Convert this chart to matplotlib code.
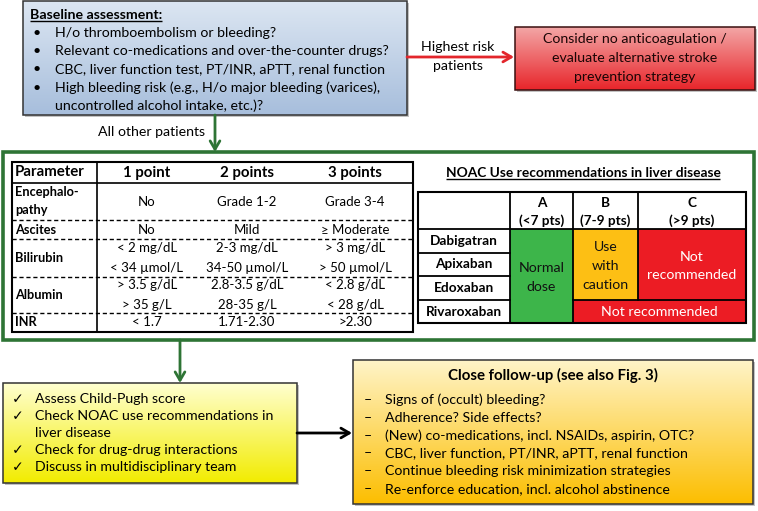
"""Flowchart: anticoagulation management in patients with liver disease."""

import matplotlib
matplotlib.use("Agg")
import matplotlib.pyplot as plt
import matplotlib.colors as mcolors
import numpy as np
from matplotlib.patches import Rectangle

plt.rcParams["font.family"] = ["Lato", "DejaVu Sans"]

# ---- texts -----------------------------------------------------------------
BASELINE_TITLE = "Baseline assessment:"
BASELINE_ITEMS = [
    "H/o thromboembolism or bleeding?",
    "Relevant co-medications and over-the-counter drugs?",
    "CBC, liver function test, PT/INR, aPTT, renal function",
    "High bleeding risk (e.g., H/o major bleeding (varices),",
    "uncontrolled alcohol intake, etc.)?",
]
RISK_LABEL = ["Highest risk", "patients"]
RED_BOX = ["Consider no anticoagulation /", "evaluate alternative stroke",
           "prevention strategy"]
OTHER_LABEL = "All other patients"

CP_HEADER = ["Parameter", "1 point", "2 points", "3 points"]
CP_PARAMS = [["Encephalo-", "pathy"], ["Ascites"], ["Bilirubin"], ["Albumin"], ["INR"]]
CP_ONE = [["No"], ["No"], ["< 2 mg/dL", "< 34 µmol/L"], ["> 3.5 g/dL", "> 35 g/L"], ["< 1.7"]]
CP_TWO = [["Grade 1-2"], ["Mild"], ["2-3 mg/dL", "34-50 µmol/L"],
          ["2.8-3.5 g/dL", "28-35 g/L"], ["1.71-2.30"]]
CP_THREE = [["Grade 3-4"], ["≥ Moderate"], ["> 3 mg/dL", "> 50 µmol/L"],
            ["< 2.8 g/dL", "< 28 g/dL"], [">2.30"]]

NOAC_TITLE = "NOAC Use recommendations in liver disease"
NOAC_CLASSES = [("A", "(<7 pts)"), ("B", "(7-9 pts)"), ("C", "(>9 pts)")]
NOAC_DRUGS = ["Dabigatran", "Apixaban", "Edoxaban", "Rivaroxaban"]

CHECK_ITEMS = [["Assess Child-Pugh score"],
               ["Check NOAC use recommendations in", "liver disease"],
               ["Check for drug-drug interactions"],
               ["Discuss in multidisciplinary team"]]
FOLLOW_TITLE = "Close follow-up (see also Fig. 3)"
FOLLOW_ITEMS = [
    "Signs of (occult) bleeding?",
    "Adherence? Side effects?",
    "(New) co-medications, incl. NSAIDs, aspirin, OTC?",
    "CBC, liver function, PT/INR, aPTT, renal function",
    "Continue bleeding risk minimization strategies",
    "Re-enforce education, incl. alcohol abstinence",
]

GREEN_LINE = "#2E7435"
RED_CELL = "#EC1C24"
GREEN_CELL = "#3DB54A"
ORANGE_CELL = "#FDBF14"

fig = plt.figure(figsize=(7.58, 5.11), dpi=100)
ax = fig.add_axes([0, 0, 1, 1])
ax.set_xlim(0, 758)
ax.set_ylim(511, 0)
ax.axis("off")

FS = 10.2  # ~14 px body text


def grad_box(x0, y0, x1, y1, ctop, cbot, ec="#333333", lw=1.1, z=2):
    ax.add_patch(Rectangle((x0 + 2, y0 + 2), x1 - x0, y1 - y0, fc="#9a9a9a",
                           ec="none", alpha=0.6, zorder=z))
    t = np.linspace(0, 1, 200)[:, None, None]
    c0 = np.array(mcolors.to_rgb(ctop))
    c1 = np.array(mcolors.to_rgb(cbot))
    img = c0 * (1 - t) + c1 * t
    ax.imshow(img, extent=(x0, x1, y1, y0), aspect="auto", zorder=z + 0.1,
              interpolation="bilinear")
    ax.add_patch(Rectangle((x0, y0), x1 - x0, y1 - y0, fc="none", ec=ec,
                           lw=lw, zorder=z + 0.2))


def underline(txt, lw=1.0, color="black"):
    r = fig.canvas.get_renderer()
    bb = txt.get_window_extent(renderer=r)
    inv = ax.transData.inverted()
    (xa, ya), (xb, yb) = inv.transform([(bb.x0, bb.y0), (bb.x1, bb.y1)])
    ax.plot([xa, xb], [ya + 0.5, ya + 0.5], color=color, lw=lw, zorder=10,
            solid_capstyle="butt")


def arrow(x0, y0, x1, y1, color, lw=2.0):
    ax.annotate("", xy=(x1, y1), xytext=(x0, y0),
                arrowprops=dict(arrowstyle="->,head_length=0.6,head_width=0.35",
                                color=color, lw=lw, shrinkA=0, shrinkB=0),
                zorder=6)


# ---- baseline assessment box ------------------------------------------------
grad_box(23, 1, 407, 115, "#DCE6F2", "#A7BEDC")
t = ax.text(30, 15, BASELINE_TITLE, fontsize=FS, fontweight="bold", va="center", zorder=5)
underline(t)
for i, item in enumerate(BASELINE_ITEMS):
    y = 33 + i * 18.2
    if i < 4:
        ax.text(33, y, "•", fontsize=FS, va="center", zorder=5)
    ax.text(55, y, item, fontsize=FS, va="center", zorder=5)

# ---- highest risk ---------------------------------------------------------------
arrow(407, 57, 514, 57, "#E3262C")
ax.text(458, 47, RISK_LABEL[0], fontsize=FS, ha="center", va="center")
ax.text(458, 66, RISK_LABEL[1], fontsize=FS, ha="center", va="center")
grad_box(515, 27, 755, 90, "#F3A6A6", "#E8252A", ec="#3a1010")
for i, line in enumerate(RED_BOX):
    ax.text(635, 39 + i * 19, line, fontsize=FS, ha="center", va="center",
            color="#1a0505", zorder=5)

# ---- all other patients -----------------------------------------------------
arrow(215, 115, 215, 152, GREEN_LINE)
ax.text(205, 132, OTHER_LABEL, fontsize=FS, ha="right", va="center")

# ---- green frame -------------------------------------------------------------
ax.add_patch(Rectangle((3, 152), 751, 188, fc="white", ec=GREEN_LINE, lw=2.6, zorder=1))

# ---- Child-Pugh table ---------------------------------------------------------
row_edges = [162, 183, 220, 239, 277, 313, 332]
col_centers = [147, 247, 355]
ax.add_patch(Rectangle((12, 162), 401, 170, fc="white", ec="black", lw=1.5, zorder=3))
ax.plot([97, 97], [162, 332], color="black", lw=1.2, zorder=4)
ax.plot([12, 413], [183, 183], color="black", lw=1.2, zorder=4)
for y in row_edges[2:-1]:
    ax.plot([12, 413], [y, y], color="black", lw=1.0, ls=(0, (3, 2)), zorder=4)

ax.text(15, 172.5, CP_HEADER[0], fontsize=10.8, fontweight="bold", va="center", zorder=5)
for cx, h in zip(col_centers, CP_HEADER[1:]):
    ax.text(cx, 172.5, h, fontsize=10.8, fontweight="bold", ha="center", va="center", zorder=5)

for r in range(len(CP_PARAMS)):
    ymid = (row_edges[r + 1] + row_edges[r + 2]) / 2
    plines = CP_PARAMS[r]
    for k, pl in enumerate(plines):
        y = ymid + (k - (len(plines) - 1) / 2) * 18
        ax.text(15, y, pl, fontsize=9.2, fontweight="bold", va="center", zorder=5)
    for cx, col in zip(col_centers, (CP_ONE, CP_TWO, CP_THREE)):
        cl = col[r]
        for k, line in enumerate(cl):
            y = ymid + (k - (len(cl) - 1) / 2) * 19.5
            ax.text(cx, y, line, fontsize=9.5, ha="center", va="center", zorder=5)

# ---- NOAC table -------------------------------------------------------------
t = ax.text(583, 173, NOAC_TITLE, fontsize=9.9, fontweight="bold", ha="center",
            va="center", zorder=5)
underline(t)
nx = [418, 510, 573, 638, 746]
ny = [192, 229, 253, 276, 300, 323]
# coloured cells
ax.add_patch(Rectangle((nx[1], ny[1]), nx[2] - nx[1], ny[5] - ny[1], fc=GREEN_CELL, ec="none", zorder=3))
ax.add_patch(Rectangle((nx[2], ny[1]), nx[3] - nx[2], ny[4] - ny[1], fc=ORANGE_CELL, ec="none", zorder=3))
ax.add_patch(Rectangle((nx[3], ny[1]), nx[4] - nx[3], ny[4] - ny[1], fc=RED_CELL, ec="none", zorder=3))
ax.add_patch(Rectangle((nx[2], ny[4]), nx[4] - nx[2], ny[5] - ny[4], fc=RED_CELL, ec="none", zorder=3))
lk = dict(color="black", lw=1.3, zorder=4)
ax.add_patch(Rectangle((nx[0], ny[0]), nx[4] - nx[0], ny[5] - ny[0], fc="none", ec="black", lw=1.5, zorder=4))
ax.plot([nx[0], nx[4]], [ny[1], ny[1]], **lk)
for y in ny[2:5]:
    ax.plot([nx[0], nx[1]], [y, y], **lk)
ax.plot([nx[2], nx[4]], [ny[4], ny[4]], **lk)
ax.plot([nx[1], nx[1]], [ny[0], ny[5]], **lk)
ax.plot([nx[2], nx[2]], [ny[0], ny[5]], **lk)
ax.plot([nx[3], nx[3]], [ny[0], ny[4]], **lk)

for i, (letter, pts) in enumerate(NOAC_CLASSES):
    cx = (nx[i + 1] + nx[i + 2]) / 2
    ax.text(cx, 203, letter, fontsize=9.8, fontweight="bold", ha="center", va="center", zorder=5)
    ax.text(cx, 221, pts, fontsize=9.8, fontweight="bold", ha="center", va="center", zorder=5)
for i, drug in enumerate(NOAC_DRUGS):
    ax.text((nx[0] + nx[1]) / 2, (ny[i + 1] + ny[i + 2]) / 2, drug, fontsize=9.8,
            fontweight="bold", ha="center", va="center", zorder=5)

cx = (nx[1] + nx[2]) / 2
ax.text(cx, 268, "Normal", fontsize=FS, ha="center", va="center", color="#111", zorder=5)
ax.text(cx, 287, "dose", fontsize=FS, ha="center", va="center", color="#111", zorder=5)
cx = (nx[2] + nx[3]) / 2
for k, w in enumerate(["Use", "with", "caution"]):
    ax.text(cx, 247 + k * 19, w, fontsize=FS, ha="center", va="center", color="#111", zorder=5)
cx = (nx[3] + nx[4]) / 2
ax.text(cx, 257, "Not", fontsize=FS, ha="center", va="center", color="white", zorder=5)
ax.text(cx, 275, "recommended", fontsize=FS, ha="center", va="center", color="white", zorder=5)
ax.text((nx[2] + nx[4]) / 2, 312, "Not recommended", fontsize=FS, ha="center",
        va="center", color="white", zorder=5)

# ---- bottom boxes ----------------------------------------------------------
arrow(180, 340, 180, 383, GREEN_LINE)
grad_box(3, 383, 297, 483, "#FFFFD0", "#F2EC00")
y = 399
for item in CHECK_ITEMS:
    ax.text(12, y, "✓", fontsize=FS, va="center", zorder=5)
    for line in item:
        ax.text(35, y, line, fontsize=FS, va="center", zorder=5)
        y += 17

arrow(297, 433, 352, 433, "black")
grad_box(353, 360, 753, 504, "#FFF4C8", "#FCBE00")
ax.text(553, 375, FOLLOW_TITLE, fontsize=10.8, fontweight="bold", ha="center",
        va="center", zorder=5)
for i, item in enumerate(FOLLOW_ITEMS):
    y = 400 + i * 17.8
    ax.text(364, y, "–", fontsize=FS, va="center", zorder=5)
    ax.text(385, y, item, fontsize=FS, va="center", zorder=5)

ax.set_xlim(0, 758)
ax.set_ylim(511, 0)
fig.savefig("out.png", dpi=100)
